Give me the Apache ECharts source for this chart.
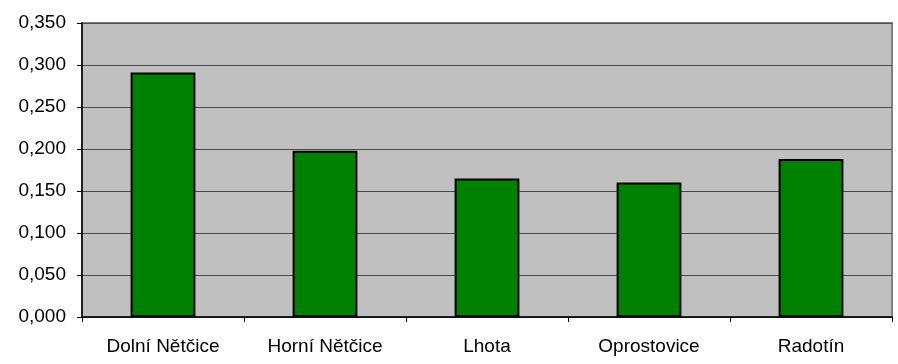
<!DOCTYPE html>
<html>
<head>
<meta charset="utf-8">
<script src="https://cdn.jsdelivr.net/npm/echarts@6/dist/echarts.min.js"></script>
<style>html,body{margin:0;padding:0;background:#fff}#c{width:898px;height:364px}</style>
</head>
<body>
<div id="c"></div>
<script>
const categories = ['Dolní Nětčice', 'Horní Nětčice', 'Lhota', 'Oprostovice', 'Radotín'];
const values = [0.291, 0.198, 0.165, 0.160, 0.188];

const chart = echarts.init(document.getElementById('c'));
chart.setOption({
  animation: false,
  textStyle: { fontFamily: 'Liberation Sans, Arial, sans-serif' },
  grid: {
    left: 82, right: 6, top: 23, bottom: 47,
    show: true, backgroundColor: '#c0c0c0', borderColor: '#808080', borderWidth: 2
  },
  xAxis: {
    type: 'category',
    data: categories,
    axisLine: { lineStyle: { color: '#000', width: 1.5 } },
    axisTick: { show: true, length: 5, lineStyle: { color: '#000' } },
    axisLabel: { color: '#000', fontSize: 19, margin: 20, fontFamily: 'Liberation Sans, Arial, sans-serif' }
  },
  yAxis: {
    type: 'value',
    min: 0, max: 0.35, interval: 0.05,
    axisLine: { show: true, lineStyle: { color: '#000', width: 1.5 } },
    axisTick: { show: true, length: 5, lineStyle: { color: '#000' } },
    splitLine: { lineStyle: { color: '#4a4a4a', width: 1 } },
    axisLabel: {
      color: '#000', fontSize: 19, margin: 16, fontFamily: 'Liberation Sans, Arial, sans-serif',
      formatter: v => v.toFixed(3).replace('.', ',')
    }
  },
  series: [{
    type: 'bar',
    data: values,
    barWidth: '40%',
    itemStyle: { color: '#008000', borderColor: '#000', borderWidth: 2 }
  }]
});
</script>
</body>
</html>
